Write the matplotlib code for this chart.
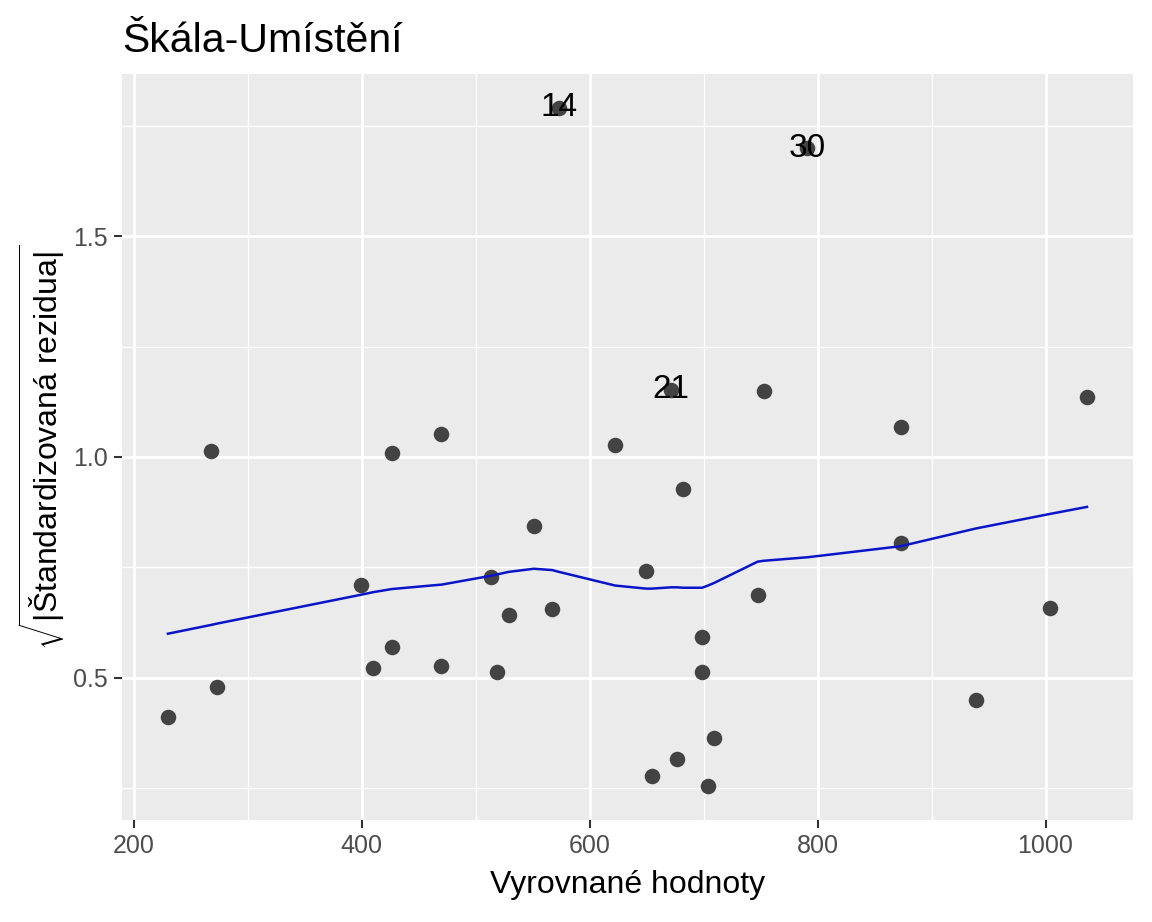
import matplotlib
matplotlib.use("Agg")
import matplotlib.pyplot as plt
from matplotlib.ticker import MultipleLocator

# fitted values and sqrt(|standardized residuals|)
fitted = [229.9, 268.1, 273.3, 399.0, 410.0, 426.1, 426.1, 469.3, 469.9, 513.1, 518.4,
          529.1, 551.0, 567.1, 572.9, 622.3, 649.5, 654.4, 671.5, 676.6, 682.2, 698.6,
          698.6, 703.8, 709.3, 747.3, 752.5, 791.1, 872.9, 872.9, 938.6, 1003.7, 1036.4]
sqrt_resid = [0.412, 1.014, 0.480, 0.710, 0.523, 1.009, 0.569, 0.526, 1.052, 0.729, 0.514,
              0.643, 0.843, 0.656, 1.790, 1.026, 0.741, 0.277, 1.152, 0.317, 0.928, 0.592,
              0.514, 0.255, 0.364, 0.687, 1.150, 1.699, 1.067, 0.806, 0.451, 0.659, 1.136]

# smoother evaluated at the fitted values
smooth_y = [0.600, 0.620, 0.623, 0.688, 0.694, 0.701, 0.701, 0.711, 0.711, 0.731, 0.734,
            0.740, 0.747, 0.744, 0.740, 0.709, 0.702, 0.702, 0.705, 0.705, 0.704, 0.704,
            0.704, 0.709, 0.715, 0.763, 0.765, 0.773, 0.798, 0.798, 0.838, 0.871, 0.887]

# labelled observations (index into the arrays above)
label_idx = [14, 18, 27]
label_txt = ["14", "21", "30"]

plt.rcParams['font.family'] = ['Liberation Sans', 'DejaVu Sans']
plt.rcParams['mathtext.fontset'] = 'custom'
plt.rcParams['mathtext.rm'] = 'Liberation Sans'
plt.rcParams['mathtext.it'] = 'Liberation Sans:italic'

fig = plt.figure(figsize=(11.52, 9.22), dpi=100)
ax = fig.add_axes([0.1059, 0.1106, 0.9835 - 0.1059, 0.9197 - 0.1106])
ax.set_facecolor('#EBEBEB')
for s in ax.spines.values():
    s.set_visible(False)

ax.xaxis.set_major_locator(MultipleLocator(200))
ax.xaxis.set_minor_locator(MultipleLocator(100))
ax.yaxis.set_major_locator(MultipleLocator(0.5))
ax.yaxis.set_minor_locator(MultipleLocator(0.25))
ax.grid(which='major', color='white', linewidth=2.0)
ax.grid(which='minor', color='white', linewidth=1.0)
ax.set_axisbelow(True)
ax.tick_params(which='minor', length=0)
ax.tick_params(which='major', length=6, width=1.5, color='#333333',
               labelsize=18, labelcolor='#4D4D4D', pad=4)

ax.scatter(fitted, sqrt_resid, s=125, color='#3a3a3a', alpha=0.95, linewidths=0, zorder=3)
ax.plot(fitted, smooth_y, color='#0A14C8', linewidth=1.8, zorder=4)

for i, t in zip(label_idx, label_txt):
    ax.text(fitted[i], sqrt_resid[i], t, fontsize=24, ha='center', va='center',
            color='black', zorder=5)

span_x = max(fitted) - min(fitted)
span_y = max(sqrt_resid) - min(sqrt_resid)
ax.set_xlim(min(fitted) - 0.05 * span_x, max(fitted) + 0.05 * span_x)
ax.set_ylim(min(sqrt_resid) - 0.05 * span_y, max(sqrt_resid) + 0.05 * span_y)
ax.set_xticks([200, 400, 600, 800, 1000])
ax.set_xticklabels(['200', '400', '600', '800', '1000'])
ax.set_yticks([0.5, 1.0, 1.5])
ax.set_yticklabels(['0.5', '1.0', '1.5'])

ax.set_xlabel('Vyrovnané hodnoty', fontsize=23, labelpad=9)
ax.set_ylabel(r'$\sqrt{|\mathrm{Štandardizovaná\ rezidua}|}$', fontsize=23, labelpad=4)
ax.set_title('Škála-Umístění', fontsize=29.5, loc='left', pad=16)

fig.savefig('out.png', dpi=100, facecolor='white')
